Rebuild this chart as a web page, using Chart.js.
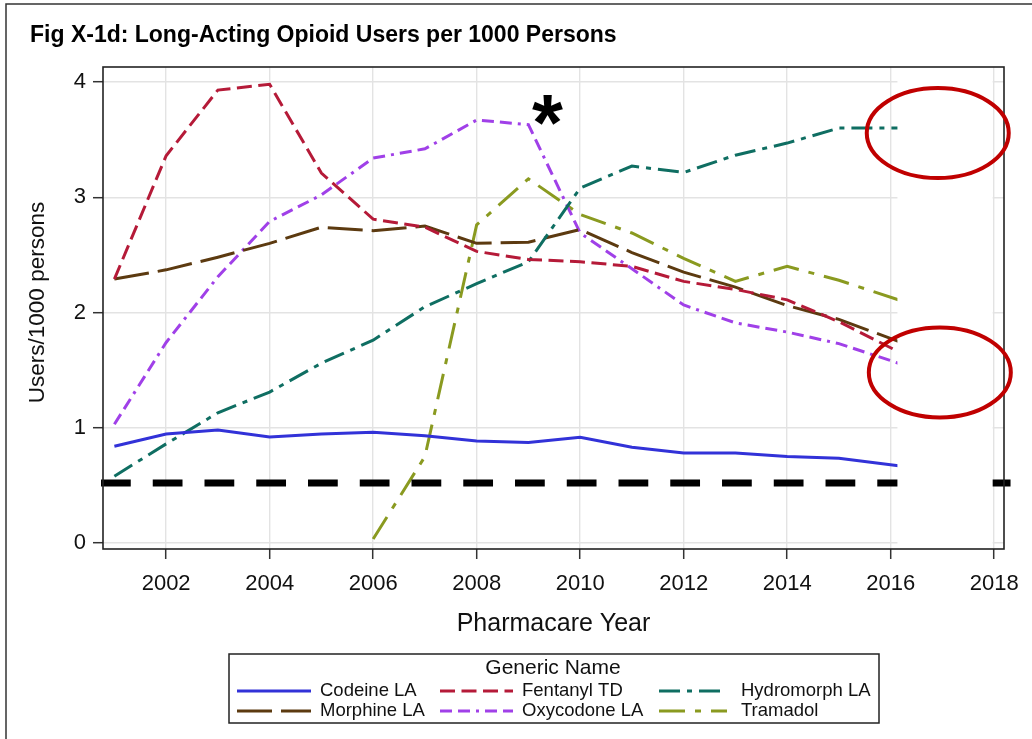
<!DOCTYPE html>
<html>
<head>
<meta charset="utf-8">
<script src="https://cdn.jsdelivr.net/npm/chart.js@4.4.0/dist/chart.umd.min.js"></script>
<style>
html,body{margin:0;padding:0;background:#fff;}
canvas{display:block;}
</style>
</head>
<body>
<canvas id="c" width="1032" height="739"></canvas>
<script>
// ---- data ----
// last x value is where the visible polylines end (the source image is cut there)
const years      = [2001,2002,2003,2004,2005,2006,2007,2008,2009,2010,2011,2012,2013,2014,2015,2016.15];
const codeine    = [0.84,0.945,0.98,0.92,0.945,0.96,0.93,0.886,0.872,0.918,0.83,0.78,0.78,0.75,0.735,0.67];
const fentanyl   = [2.29,3.36,3.93,3.98,3.21,2.81,2.74,2.53,2.46,2.44,2.40,2.27,2.20,2.11,1.92,1.66];
const hydromorph = [0.58,0.86,1.13,1.31,1.56,1.76,2.05,2.25,2.44,3.08,3.27,3.215,3.365,3.47,3.60,3.60];
const morphine   = [2.29,2.37,2.48,2.60,2.74,2.71,2.75,2.60,2.61,2.72,2.52,2.35,2.22,2.06,1.94,1.75];
const oxycodone  = [1.03,1.74,2.31,2.79,3.02,3.34,3.42,3.67,3.63,2.69,2.38,2.065,1.91,1.83,1.73,1.56];
const tramadol   = [null,null,null,null,null,0.035,0.75,2.76,3.16,2.85,2.69,2.47,2.27,2.40,2.28,2.11];
const seriesNames = ['Codeine LA','Fentanyl TD','Hydromorph LA','Morphine LA','Oxycodone LA','Tramadol'];
const xTicks = [2002,2004,2006,2008,2010,2012,2014,2016,2018];
const yTicks = [0,1,2,3,4];
const refLineValue = 0.52;
const chartTitle = 'Fig X-1d: Long-Acting Opioid Users per 1000 Persons';
const xTitle = 'Pharmacare Year';
const yTitle = 'Users/1000 persons';
const legendTitle = 'Generic Name';
const asteriskAt = {x: 2009.37, y: 3.76};
const ellipseCenters = [{x: 2016.91, y: 3.557}, {x: 2016.95, y: 1.48}];

// ---- styles ----
const FONT = '"Liberation Sans", Arial, Helvetica, sans-serif';
const seriesValues = [codeine, fentanyl, hydromorph, morphine, oxycodone, tramadol];
const seriesStyles = [
  {color:'#3232d8', dash:[]},
  {color:'#b51a38', dash:[15,6.5]},
  {color:'#0f6e62', dash:[21,7,5,7]},
  {color:'#5c3a10', dash:[35,9]},
  {color:'#a040e8', dash:[12,6,12,6,3,6]},
  {color:'#8a9a20', dash:[26,10,6,10]}
];

const datasets = seriesNames.map((name, i) => ({
  label: name,
  data: years.map((x, j) => ({x: x, y: seriesValues[i][j]})),
  borderColor: seriesStyles[i].color,
  backgroundColor: seriesStyles[i].color,
  borderDash: seriesStyles[i].dash,
  borderWidth: 3,
  pointRadius: 0,
  tension: 0,
  fill: false,
  spanGaps: false
}));

const overlay = {
  id: 'overlay',
  afterDraw(chart) {
    const ctx = chart.ctx, a = chart.chartArea, xs = chart.scales.x, ys = chart.scales.y;
    ctx.save();
    // reference dashed line
    const yr = ys.getPixelForValue(refLineValue);
    const period = xs.getPixelForValue(2002) - xs.getPixelForValue(2001);
    ctx.setLineDash([period * 0.575, period * 0.425]);
    ctx.lineWidth = 7;
    ctx.strokeStyle = '#000';
    ctx.beginPath();
    ctx.moveTo(a.left - 2, yr);
    ctx.lineTo(chart.width, yr);
    ctx.stroke();
    ctx.setLineDash([]);
    // white patch where the source image was cut
    const px0 = xs.getPixelForValue(years[years.length - 1]) - 1;
    const px1 = xs.getPixelForValue(xTicks[xTicks.length - 1]) - 1.5;
    ctx.fillStyle = '#fff';
    ctx.fillRect(px0, a.top + 1, px1 - px0, a.bottom - a.top - 2);
    // plot frame
    ctx.strokeStyle = '#222';
    ctx.lineWidth = 1.6;
    ctx.strokeRect(a.left, a.top, a.right - a.left, a.bottom - a.top);
    // red ellipses
    ctx.strokeStyle = '#c00000';
    ctx.lineWidth = 4;
    ellipseCenters.forEach(c => {
      ctx.beginPath();
      ctx.ellipse(xs.getPixelForValue(c.x), ys.getPixelForValue(c.y), 71, 45, 0, 0, Math.PI * 2);
      ctx.stroke();
    });
    // asterisk
    ctx.fillStyle = '#000';
    ctx.font = 'bold 100px ' + FONT;
    let m = ctx.measureText('*');
    const inkW = m.actualBoundingBoxLeft + m.actualBoundingBoxRight;
    const size = 100 * 31 / inkW;
    ctx.font = 'bold ' + size + 'px ' + FONT;
    ctx.textAlign = 'left';
    ctx.textBaseline = 'alphabetic';
    m = ctx.measureText('*');
    const ax = xs.getPixelForValue(asteriskAt.x), ay = ys.getPixelForValue(asteriskAt.y);
    const cxOff = (m.actualBoundingBoxRight - m.actualBoundingBoxLeft) / 2;
    const cyOff = (m.actualBoundingBoxDescent - m.actualBoundingBoxAscent) / 2;
    ctx.fillText('*', ax - cxOff, ay - cyOff);
    // chart title
    ctx.fillStyle = '#000';
    ctx.font = 'bold 23px ' + FONT;
    ctx.textAlign = 'left';
    ctx.textBaseline = 'alphabetic';
    ctx.fillText(chartTitle, 30, 42);
    // axis titles
    ctx.fillStyle = '#111';
    ctx.font = '25px ' + FONT;
    ctx.textAlign = 'center';
    ctx.textBaseline = 'middle';
    ctx.fillText(xTitle, (a.left + a.right) / 2, 624);
    ctx.save();
    ctx.translate(38, 302.5);
    ctx.rotate(-Math.PI / 2);
    ctx.font = '22.5px ' + FONT;
    ctx.fillText(yTitle, 0, 0);
    ctx.restore();
    // legend
    const L = {x: 229, y: 654, w: 650, h: 69};
    ctx.strokeStyle = '#222';
    ctx.lineWidth = 1.5;
    ctx.strokeRect(L.x, L.y, L.w, L.h);
    ctx.fillStyle = '#111';
    ctx.font = '21px ' + FONT;
    ctx.textAlign = 'center';
    ctx.fillText(legendTitle, 553, 668);
    const swX = [237, 440, 659], swLen = [74, 73, 68], txX = [320, 522, 741], rowY = [691, 711];
    chart.data.datasets.forEach((ds, i) => {
      const col = i % 3, row = Math.floor(i / 3);
      ctx.strokeStyle = ds.borderColor;
      ctx.lineWidth = 3;
      ctx.setLineDash(ds.borderDash || []);
      ctx.lineDashOffset = 0;
      ctx.beginPath();
      ctx.moveTo(swX[col], rowY[row]);
      ctx.lineTo(swX[col] + swLen[col], rowY[row]);
      ctx.stroke();
      ctx.setLineDash([]);
      ctx.fillStyle = '#111';
      ctx.font = '18.5px ' + FONT;
      ctx.textAlign = 'left';
      ctx.textBaseline = 'middle';
      ctx.fillText(ds.label, txX[col], rowY[row]);
    });
    // outer frame
    ctx.strokeStyle = '#333';
    ctx.lineWidth = 1.5;
    ctx.beginPath();
    ctx.moveTo(chart.width, 4);
    ctx.lineTo(6, 4);
    ctx.lineTo(6, chart.height);
    ctx.stroke();
    ctx.restore();
  }
};

new Chart(document.getElementById('c'), {
  type: 'line',
  data: {datasets: datasets},
  options: {
    responsive: false,
    animation: false,
    devicePixelRatio: 1,
    layout: {padding: {left: 0, top: 67, right: 28, bottom: 0}},
    plugins: {legend: {display: false}, tooltip: {enabled: false}, title: {display: false}},
    scales: {
      x: {
        type: 'linear',
        min: 2000.78,
        max: 2018.19,
        afterBuildTicks: s => { s.ticks = xTicks.map(v => ({value: v})); },
        afterFit: s => { s.height = 190; },
        grid: {color: '#e3e3e3', lineWidth: 1.4, tickColor: '#333', tickWidth: 1.5, tickLength: 10, drawTicks: true},
        border: {display: false},
        ticks: {color: '#111', font: {family: FONT, size: 22, lineHeight: 1.2}, padding: 12, maxRotation: 0, autoSkip: false, callback: v => String(v)}
      },
      y: {
        type: 'linear',
        min: -0.052,
        max: 4.13,
        afterBuildTicks: s => { s.ticks = yTicks.map(v => ({value: v})); },
        afterFit: s => { s.width = 103; },
        grid: {color: '#e3e3e3', lineWidth: 1.4, tickColor: '#333', tickWidth: 1.5, tickLength: 10, drawTicks: true},
        border: {display: false},
        ticks: {color: '#111', font: {family: FONT, size: 22}, padding: 7, autoSkip: false, callback: v => String(v)}
      }
    }
  },
  plugins: [overlay]
});
</script>
</body>
</html>
